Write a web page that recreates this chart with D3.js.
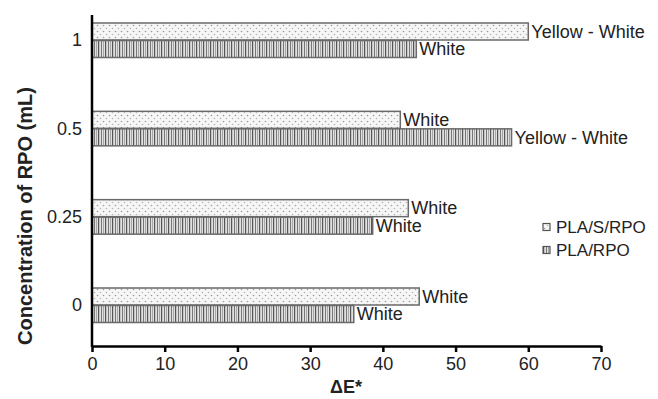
<!DOCTYPE html>
<html>
<head>
<meta charset="utf-8">
<script src="https://cdn.jsdelivr.net/npm/d3@7"></script>
<style>
  body { margin: 0; background: #fff; }
  svg { font-family: "Liberation Sans", Arial, sans-serif; }
</style>
</head>
<body>
<svg width="658" height="399"></svg>
<script>
// data
const categories = ["1", "0.5", "0.25", "0"];
const seriesNames = ["PLA/S/RPO", "PLA/RPO"];
const plaSRpo = [60.0, 42.4, 43.5, 45.0];
const plaRpo = [44.6, 57.7, 38.6, 36.0];
const plaSRpoNotes = ["Yellow - White", "White", "White", "White"];
const plaRpoNotes = ["White", "Yellow - White", "White", "White"];
const xTicks = [0, 10, 20, 30, 40, 50, 60, 70];

let svg = d3.select("svg");

// patterns
let defs = svg.append("defs");
let dots = defs.append("pattern")
    .attr("id", "dots")
    .attr("patternUnits", "userSpaceOnUse")
    .attr("width", 6).attr("height", 6);
dots.append("rect").attr("width", 6).attr("height", 6).attr("fill", "#f6f6f6");
dots.append("circle").attr("cx", 1.5).attr("cy", 1.5).attr("r", 0.8).attr("fill", "#9a9a9a");
dots.append("circle").attr("cx", 4.5).attr("cy", 4.5).attr("r", 0.8).attr("fill", "#b5b5b5");

let stripes = defs.append("pattern")
    .attr("id", "stripes")
    .attr("patternUnits", "userSpaceOnUse")
    .attr("width", 7).attr("height", 10);
stripes.append("rect").attr("width", 7).attr("height", 10).attr("fill", "#e0e0e0");
stripes.append("rect").attr("x", 0).attr("width", 1.2).attr("height", 10).attr("fill", "#555");
stripes.append("rect").attr("x", 3).attr("width", 1).attr("height", 10).attr("fill", "#777");
stripes.append("rect").attr("x", 5).attr("width", 0.8).attr("height", 10).attr("fill", "#999");

let xScale = d3.scaleLinear().domain([0, 70]).range([92, 601]);
let yScale = d3.scalePoint().domain(categories).range([40, 305]);
let barH = 17;

// bars
let series = [
    {name: seriesNames[0], values: plaSRpo, notes: plaSRpoNotes, fill: "url(#dots)", off: -barH},
    {name: seriesNames[1], values: plaRpo, notes: plaRpoNotes, fill: "url(#stripes)", off: 0.5}
];

series.forEach(function (s) {
    let g = svg.append("g");
    g.selectAll("rect")
        .data(categories)
        .enter().append("rect")
        .attr("x", xScale(0))
        .attr("y", function (d) { return yScale(d) + s.off; })
        .attr("width", function (d, i) { return xScale(s.values[i]) - xScale(0); })
        .attr("height", barH)
        .attr("fill", s.fill)
        .attr("stroke", "#6a6a6a")
        .attr("stroke-width", 1.5);
    g.selectAll("text")
        .data(categories)
        .enter().append("text")
        .attr("x", function (d, i) { return xScale(s.values[i]) + 3; })
        .attr("y", function (d) { return yScale(d) + s.off + barH / 2; })
        .attr("dy", "0.35em")
        .attr("font-size", "18px")
        .attr("fill", "#222")
        .text(function (d, i) { return s.notes[i]; });
});

// x axis
let xAxis = svg.append("g")
    .attr("transform", "translate(0,346)")
    .call(d3.axisBottom(xScale).tickValues(xTicks).tickSize(6).tickSizeOuter(0).tickPadding(5));
xAxis.select(".domain").attr("stroke", "#000").attr("stroke-width", 2.5);
xAxis.selectAll(".tick line").attr("stroke", "#000").attr("stroke-width", 2.5);
xAxis.selectAll(".tick text")
    .attr("font-size", "18px")
    .attr("fill", "#222")
    .attr("font-family", "Liberation Sans, Arial, sans-serif");

// y axis
let yAxis = svg.append("g")
    .attr("transform", "translate(92,0)")
    .call(d3.axisLeft(yScale).tickSize(0).tickPadding(10));
yAxis.select(".domain").attr("d", "M0,15V347").attr("stroke", "#000").attr("stroke-width", 2.5);
yAxis.selectAll(".tick text")
    .attr("font-size", "18px")
    .attr("fill", "#222")
    .attr("font-family", "Liberation Sans, Arial, sans-serif");

// axis titles
svg.append("text")
    .attr("x", 346)
    .attr("y", 393)
    .attr("text-anchor", "middle")
    .attr("font-size", "18px")
    .attr("font-weight", "bold")
    .attr("fill", "#222")
    .text("ΔE*");

svg.append("text")
    .attr("transform", "translate(32,216) rotate(-90)")
    .attr("text-anchor", "middle")
    .attr("font-size", "20px")
    .attr("font-weight", "bold")
    .attr("fill", "#222")
    .text("Concentration of RPO (mL)");

// legend
let legend = svg.append("g")
    .selectAll("g")
    .data(series)
    .enter().append("g")
    .attr("transform", function (d, i) { return "translate(543," + (227 + i * 23) + ")"; });
legend.append("rect")
    .attr("x", 0).attr("y", -3.5)
    .attr("width", 7).attr("height", 7)
    .attr("fill", function (d) { return d.fill; })
    .attr("stroke", "#555")
    .attr("stroke-width", 1.2);
legend.append("text")
    .attr("x", 13)
    .attr("dy", "0.35em")
    .attr("font-size", "17px")
    .attr("fill", "#222")
    .text(function (d) { return d.name; });
</script>
</body>
</html>
